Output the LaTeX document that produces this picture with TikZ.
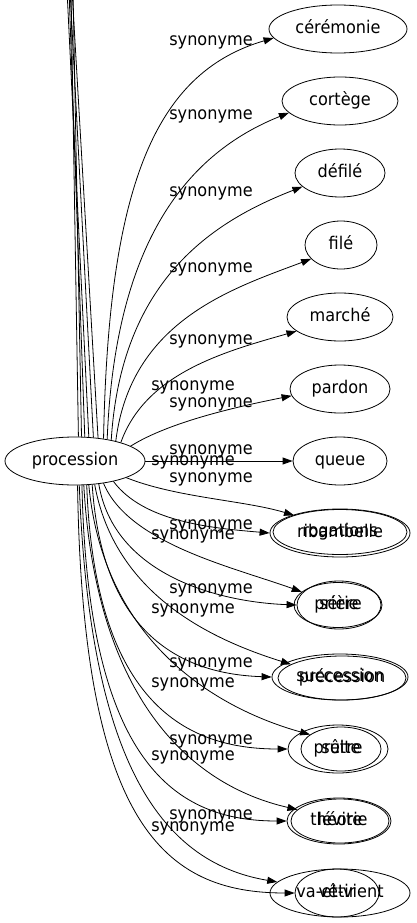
\documentclass[tikz,border=0pt]{standalone}
\usepackage{fontspec}
\setmainfont{DejaVu Sans}[FakeStretch=0.92]
\usetikzlibrary{arrows.meta,shapes.geometric}
\begin{document}
\begin{tikzpicture}[x=1pt,y=-1pt,
  nd/.style={draw,ellipse,inner sep=0pt,line width=0.8pt,text height=12.5pt,text depth=3.5pt,font=\fontsize{17.5}{20}\selectfont},
  lbl/.style={inner sep=0pt,text height=12.5pt,text depth=3.5pt,font=\fontsize{17.5}{20}\selectfont},
  syn/.style={draw,line width=0.8pt,-{Triangle[length=10pt,width=7pt]}},
  upln/.style={draw,line width=0.8pt}]
\useasboundingbox (0,0) rectangle (416,923);
\clip (0,0) rectangle (416,923);

% nodes
\node[nd,minimum width=140pt,minimum height=48pt] (proc) at (75,461) {procession};
\node[nd,minimum width=138pt,minimum height=48pt] (cer) at (338,29) {cérémonie};
\node[nd,minimum width=116pt,minimum height=48pt] (cort) at (340,101) {cortège};
\node[nd,minimum width=90pt,minimum height=48pt] (def) at (340,173) {défilé};
\node[nd,minimum width=72pt,minimum height=48pt] (file) at (341,245) {filé};
\node[nd,minimum width=106pt,minimum height=48pt] (marche) at (340,317) {marché};
\node[nd,minimum width=100pt,minimum height=48pt] (pardon) at (340,389) {pardon};
\node[nd,minimum width=94pt,minimum height=48pt] (queue) at (340,461) {queue};
\node[nd,minimum width=140pt,minimum height=48pt] (rib) at (340,533) {ribambelle};
\node[nd,minimum width=134pt,minimum height=45pt] (rog) at (340,532) {rogations};
\node[nd,minimum width=84pt,minimum height=48pt] (serie) at (339,605) {série};
\node[nd,minimum width=88pt,minimum height=45pt] (priere) at (338,605) {prière};
\node[nd,minimum width=136pt,minimum height=46pt] (succ) at (340,677) {succession};
\node[nd,minimum width=128pt,minimum height=44pt] (prec) at (342,678) {précession};
\node[nd,minimum width=100pt,minimum height=48pt] (pretre) at (338,749) {prêtre};
\node[nd,minimum width=80pt,minimum height=44pt] (suite) at (341,749) {suite};
\node[nd,minimum width=104pt,minimum height=46pt] (theorie) at (339,821) {théorie};
\node[nd,minimum width=98pt,minimum height=44pt] (levite) at (340,821) {lévite};
\node[nd,minimum width=140pt,minimum height=48pt] (vaet) at (340,893) {va-et-vient};
\node[nd,minimum width=84pt,minimum height=48pt] (vetir) at (337,893) {vêtir};

% edges leaving the top of the picture
\coordinate (u1) at (71,-10);
\coordinate (u2) at (73,-10);
\coordinate (u3) at (69,-10);
\coordinate (u4) at (67,-10);
\coordinate (u5) at (70,-10);
\coordinate (u6) at (72,-10);
\draw[upln] (proc.82) -- (u1);
\draw[upln] (proc.75) -- (u2);
\draw[upln] (proc.68) -- (u3);
\draw[upln] (proc.60) -- (u4);
\draw[upln] (proc.52) -- (u5);
\draw[upln] (proc.45) -- (u6);

% upper edges
\draw[syn] (proc.38) .. controls +(5,-250) and +(-120,35) .. (cer.188);
\draw[syn] (proc.34) .. controls +(8,-200) and +(-100,40) .. (cort.193);
\draw[syn] (proc.30) .. controls +(10,-160) and +(-90,35) .. (def.200);
\draw[syn] (proc.26) .. controls +(15,-120) and +(-80,30) .. (file.205);
\draw[syn] (proc.22) .. controls +(25,-70) and +(-70,20) .. (marche.198);
\draw[syn] (proc.15) .. controls +(40,-25) and +(-50,10) .. (pardon.188);
\draw[syn] (proc.0) -- (queue.180);

% lower edges
\draw[syn] (proc.-18) .. controls +(50,20) and +(-50,-15) .. (rog.160);
\draw[syn] (proc.-28) .. controls +(30,40) and +(-60,-5) .. (rib.180);
\draw[syn] (proc.-38) .. controls +(25,60) and +(-70,-25) .. (priere.160);
\draw[syn] (proc.-44) .. controls +(15,90) and +(-80,-3) .. (serie.180);
\draw[syn] (proc.-50) .. controls +(20,110) and +(-80,-25) .. (prec.165);
\draw[syn] (proc.-54) .. controls +(10,150) and +(-90,-3) .. (succ.180);
\draw[syn] (proc.-60) .. controls +(15,160) and +(-90,-25) .. (suite.155);
\draw[syn] (proc.-64) .. controls +(8,220) and +(-100,0) .. (pretre.180);
\draw[syn] (proc.-70) .. controls +(12,210) and +(-110,-25) .. (levite.165);
\draw[syn] (proc.-74) .. controls +(6,280) and +(-110,0) .. (theorie.180);
\draw[syn] (proc.-80) .. controls +(10,270) and +(-120,-20) .. (vaet.170);
\draw[syn] (proc.-84) .. controls +(5,340) and +(-130,0) .. (vetir.180);

% labels
\node[lbl] (l1) at (211,41) {synonyme};
\node[lbl] (l2) at (211,115) {synonyme};
\node[lbl] (l3) at (211,192) {synonyme};
\node[lbl] (l4) at (211,268) {synonyme};
\node[lbl] (l5) at (211,340) {synonyme};
\node[lbl] (l6) at (193,386) {synonyme};
\node[lbl] (l7) at (211,403) {synonyme};
\node[lbl] (l8) at (211,450) {synonyme};
\node[lbl] (l9) at (193,461) {synonyme};
\node[lbl] (l10) at (211,478) {synonyme};
\node[lbl] (l11) at (211,525) {synonyme};
\node[lbl] (l12) at (193,535) {synonyme};
\node[lbl] (l13) at (211,589) {synonyme};
\node[lbl] (l14) at (193,609) {synonyme};
\node[lbl] (l15) at (211,663) {synonyme};
\node[lbl] (l16) at (193,683) {synonyme};
\node[lbl] (l17) at (211,740) {synonyme};
\node[lbl] (l18) at (193,756) {synonyme};
\node[lbl] (l19) at (211,815) {synonyme};
\node[lbl] (l20) at (193,827) {synonyme};
\end{tikzpicture}
\end{document}
